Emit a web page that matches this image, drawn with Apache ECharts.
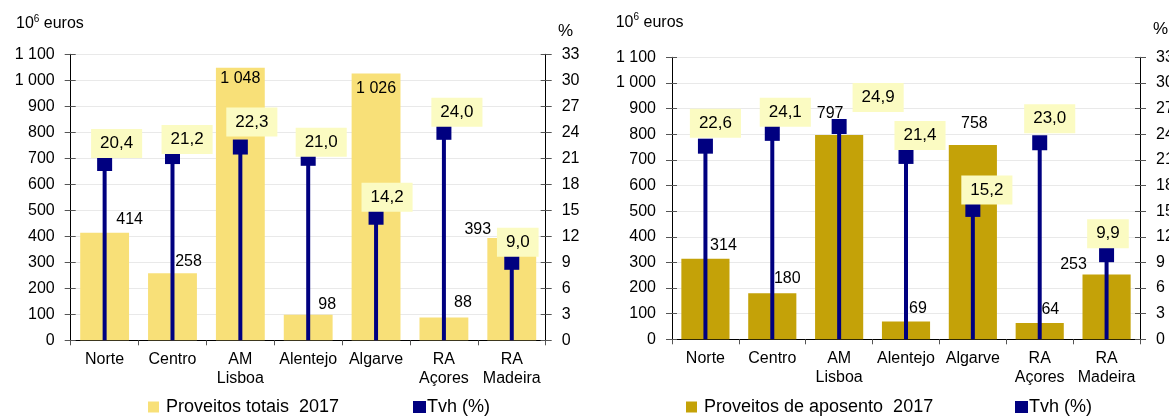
<!DOCTYPE html>
<html><head><meta charset="utf-8">
<script src="https://cdn.jsdelivr.net/npm/echarts@6/dist/echarts.min.js"></script>
<style>html,body{margin:0;padding:0;background:#fff}#c{width:1169px;height:416px}</style>
</head><body><div id="c"></div>
<script>
// ---- data ----
const categories = ['Norte', 'Centro', 'AM\nLisboa', 'Alentejo', 'Algarve', 'RA\nAçores', 'RA\nMadeira'];
const proveitosTotais2017 = [414, 258, 1048, 98, 1026, 88, 393];
const tvhProveitosTotais = [20.4, 21.2, 22.3, 21.0, 14.2, 24.0, 9.0];
const proveitosAposento2017 = [314, 180, 797, 69, 758, 64, 253];
const tvhProveitosAposento = [22.6, 24.1, 24.9, 21.4, 15.2, 23.0, 9.9];
const eurosTickLabels = ['0', '100', '200', '300', '400', '500', '600', '700', '800', '900', '1 000', '1 100'];
const pctTickLabels = ['0', '3', '6', '9', '12', '15', '18', '21', '24', '27', '30', '33'];
const barSeriesNames = ['Proveitos totais  2017', 'Proveitos de aposento  2017'];
const tvhName = 'Tvh (%)';

// ---- styling / layout ----
const FONT = '"Liberation Sans", Arial, Helvetica, sans-serif';
const NAVY = '#000080';
const fmtEuros = v => v >= 1000 ? Math.floor(v / 1000) + ' ' + String(v % 1000).padStart(3, '0') : String(v);
const fmtPct = v => v.toFixed(1).replace('.', ',');

const panels = [
  {
    values: proveitosTotais2017, tvh: tvhProveitosTotais, name: barSeriesNames[0], color: '#F8E078',
    grid: { left: 70.7, top: 54.3, width: 475, height: 286 },
    barLabel: [['top', 25, 0], ['top', 16, 1], ['insideTop', 0, -2], ['top', 19, 3], ['insideTop', 0, 2.5], ['top', 19, -2], ['top', -34, 4]],
    tvhLabel: [[12, -20], [14.6, -17], [11.5, -25], [13, -16], [11, -20], [13, -20], [6, -20]],
    legendBarLeft: 148, legendTvhLeft: 413, legendTop: 398,
    unitX: 16, unitY: 24, pctX: 558, pctY: 31
  },
  {
    values: proveitosAposento2017, tvh: tvhProveitosAposento, name: barSeriesNames[1], color: '#C4A208',
    grid: { left: 672, top: 57.3, width: 468, height: 282 },
    barLabel: [['top', 18, 0], ['top', 15, -2], ['top', -9, -8], ['top', 12, 0], ['top', 1.5, -8], ['top', 10.6, 0], ['top', -33, 3]],
    tvhLabel: [[10, -23], [13, -21], [39, -29], [14, -21], [14, -19.4], [10, -24], [1.4, -21]],
    legendBarLeft: 686, legendTvhLeft: 1015, legendTop: 398,
    unitX: 615.7, unitY: 22.5, pctX: 1153, pctY: 29
  }
];

const grid = [], xAxis = [], yAxis = [], series = [], legend = [], graphic = [];

panels.forEach((p, i) => {
  grid.push(Object.assign({ containLabel: false, outerBoundsMode: 'none' }, p.grid));
  const xMain = xAxis.length;
  xAxis.push({
    gridIndex: i, type: 'category', data: categories,
    axisLine: { lineStyle: { color: '#000', width: 1 } },
    axisTick: { show: true, length: 5, lineStyle: { color: '#555' } },
    axisLabel: { color: '#000', fontSize: 16, fontFamily: FONT, margin: 10, lineHeight: 19, interval: 0 }
  });
  const xHidden = xAxis.length;
  xAxis.push({ gridIndex: i, type: 'category', data: categories, show: false });

  const yLeft = yAxis.length;
  yAxis.push({
    gridIndex: i, type: 'value', position: 'left', min: 0, max: 1100, interval: 100,
    axisLine: { show: true, lineStyle: { color: '#000' } },
    axisTick: { show: true, length: 6, lineStyle: { color: '#555' } },
    axisLabel: { color: '#000', fontSize: 16, fontFamily: FONT, margin: 16, formatter: v => eurosTickLabels[Math.round(v / 100)] },
    splitLine: { show: true, lineStyle: { color: '#e9e9e9', width: 1 } }
  });
  const yRight = yAxis.length;
  yAxis.push({
    gridIndex: i, type: 'value', position: 'right', min: 0, max: 33, interval: 3,
    axisLine: { show: true, lineStyle: { color: '#000' } },
    axisTick: { show: true, length: 6, lineStyle: { color: '#555' } },
    axisLabel: { color: '#000', fontSize: 16, fontFamily: FONT, margin: 16, formatter: v => pctTickLabels[Math.round(v / 3)] },
    splitLine: { show: false }
  });
  // inner half of the crossing tick marks
  yAxis.push({
    gridIndex: i, type: 'value', position: 'left', min: 0, max: 1100, interval: 100,
    axisLine: { show: false }, axisLabel: { show: false }, splitLine: { show: false },
    axisTick: { show: true, inside: true, length: 5, lineStyle: { color: '#555' } }
  });
  yAxis.push({
    gridIndex: i, type: 'value', position: 'right', min: 0, max: 33, interval: 3,
    axisLine: { show: false }, axisLabel: { show: false }, splitLine: { show: false },
    axisTick: { show: true, inside: true, length: 5, lineStyle: { color: '#555' } }
  });

  series.push({
    type: 'bar', name: p.name, xAxisIndex: xMain, yAxisIndex: yLeft, z: 2,
    barCategoryGap: '28%',
    itemStyle: { color: p.color },
    data: p.values.map((v, k) => ({
      value: v,
      label: { show: true, position: p.barLabel[k][0], distance: 5, offset: [p.barLabel[k][1], p.barLabel[k][2]] }
    })),
    label: { color: '#000', fontSize: 16, fontFamily: FONT, formatter: q => fmtEuros(q.value) }
  });
  series.push({
    type: 'bar', name: tvhName, xAxisIndex: xHidden, yAxisIndex: yRight, z: 3,
    barWidth: 4, itemStyle: { color: NAVY, opacity: 1 }, data: p.tvh.slice()
  });
  series.push({
    type: 'scatter', name: tvhName, xAxisIndex: xMain, yAxisIndex: yRight, z: 4,
    symbol: 'rect', symbolSize: 15, itemStyle: { color: NAVY, opacity: 1 },
    data: p.tvh.map((v, k) => ({ value: v, label: { offset: p.tvhLabel[k] } })),
    label: {
      show: true, position: 'inside', color: '#000', fontSize: 17, fontFamily: FONT,
      backgroundColor: '#FBFBC2', padding: [6, 9, 6, 9], formatter: q => fmtPct(q.value)
    }
  });

  legend.push({
    data: [{ name: p.name, icon: 'rect' }], left: p.legendBarLeft, top: p.legendTop, padding: 0,
    itemWidth: 11, itemHeight: 11, selectedMode: false,
    textStyle: { fontSize: 18, fontFamily: FONT, color: '#000', padding: [0, 0, 0, 2] }
  });
  legend.push({
    data: [{ name: tvhName, icon: 'rect', itemStyle: { color: NAVY, opacity: 1 } }], left: p.legendTvhLeft, top: p.legendTop, padding: 0,
    itemWidth: 13, itemHeight: 12, selectedMode: false,
    textStyle: { fontSize: 18, fontFamily: FONT, color: '#000', padding: [0, 0, 0, -4] }
  });

  graphic.push({
    type: 'text', x: p.unitX, y: p.unitY,
    style: {
      text: '{a|10}{s|6}{a| euros}', verticalAlign: 'middle', align: 'left',
      rich: {
        a: { fontSize: 16, fontFamily: FONT, fill: '#000', lineHeight: 20 },
        s: { fontSize: 10, fontFamily: FONT, fill: '#000', verticalAlign: 'top', lineHeight: 12 }
      }
    }
  });
  graphic.push({
    type: 'text', x: p.pctX, y: p.pctY,
    style: { text: '%', fontSize: 17, fontFamily: FONT, fill: '#000', verticalAlign: 'middle', align: 'left' }
  });
});

const chart = echarts.init(document.getElementById('c'), null, { renderer: 'canvas' });
chart.setOption({
  animation: false,
  backgroundColor: '#fff',
  textStyle: { fontFamily: FONT },
  grid, xAxis, yAxis, series, legend, graphic
});
</script>
</body></html>
